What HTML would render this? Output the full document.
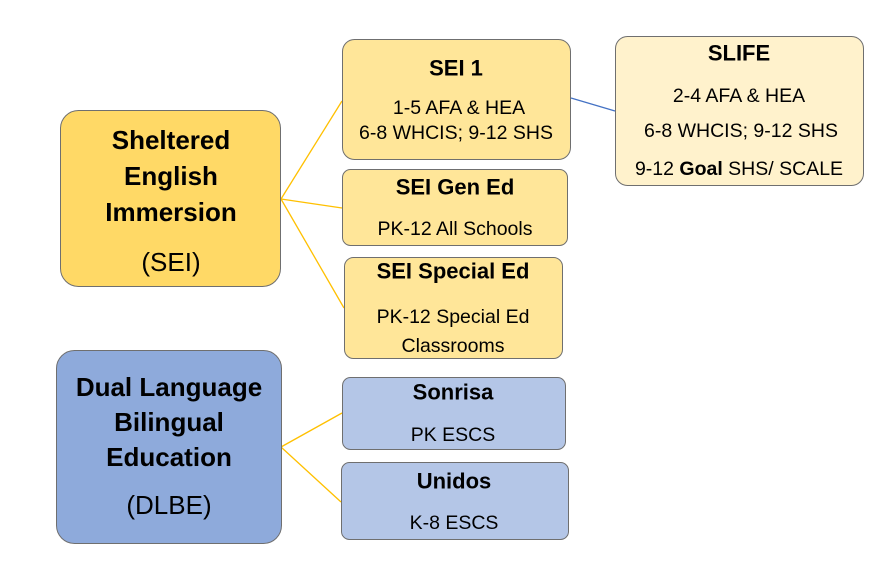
<!DOCTYPE html>
<html><head><meta charset="utf-8"><style>
html,body{margin:0;padding:0;background:#fff;}
svg{display:block;font-family:"Liberation Sans",sans-serif;}
text{text-anchor:middle;dominant-baseline:central;fill:#000;}
.b{font-weight:bold;}
</style></head><body>
<svg width="883" height="563" viewBox="0 0 883 563" xmlns="http://www.w3.org/2000/svg">
<g stroke="#ffc000" stroke-width="1.3" fill="none">
<line x1="281" y1="199" x2="342" y2="101"/>
<line x1="281" y1="199" x2="342" y2="208"/>
<line x1="281" y1="199" x2="344" y2="308"/>
<line x1="281" y1="447" x2="342" y2="413"/>
<line x1="281" y1="447" x2="341" y2="502"/>
</g>
<line x1="571" y1="98" x2="615" y2="111" stroke="#4472c4" stroke-width="1.3"/>
<g stroke="#6f6f6f" stroke-width="1">
<rect x="60.5" y="110.5" width="220" height="176" rx="18" fill="#ffd966"/>
<rect x="342.5" y="39.5" width="228" height="120" rx="12" fill="#ffe699"/>
<rect x="342.5" y="169.5" width="225" height="76" rx="8" fill="#ffe699"/>
<rect x="344.5" y="257.5" width="218" height="101" rx="9" fill="#ffe699"/>
<rect x="615.5" y="36.5" width="248" height="149" rx="12" fill="#fff2cc"/>
<rect x="56.5" y="350.5" width="225" height="193" rx="18" fill="#8eaadb"/>
<rect x="342.5" y="377.5" width="223" height="72" rx="8" fill="#b4c6e7"/>
<rect x="341.5" y="462.5" width="227" height="77" rx="8" fill="#b4c6e7"/>
</g>
<g class="b" font-size="26">
<text x="171" y="140">Sheltered</text>
<text x="171" y="176">English</text>
<text x="171" y="212">Immersion</text>
<text x="169" y="387">Dual Language</text>
<text x="169" y="422">Bilingual</text>
<text x="169" y="457">Education</text>
</g>
<text x="171" y="262" font-size="26">(SEI)</text>
<text x="169" y="505" font-size="26">(DLBE)</text>
<g class="b" font-size="22">
<text x="456" y="68">SEI 1</text>
<text x="455" y="187">SEI Gen Ed</text>
<text x="453" y="271">SEI Special Ed</text>
<text x="739" y="53">SLIFE</text>
<text x="453" y="392">Sonrisa</text>
<text x="454" y="481">Unidos</text>
</g>
<g font-size="19.5">
<text x="459" y="108">1-5 AFA &amp; HEA</text>
<text x="456" y="133">6-8 WHCIS; 9-12 SHS</text>
<text x="455" y="229">PK-12 All Schools</text>
<text x="453" y="317">PK-12 Special Ed</text>
<text x="453" y="346">Classrooms</text>
<text x="739" y="96">2-4 AFA &amp; HEA</text>
<text x="741" y="131">6-8 WHCIS; 9-12 SHS</text>
<text x="739" y="169">9-12 <tspan font-weight="bold">Goal</tspan> SHS/ SCALE</text>
<text x="453" y="435">PK ESCS</text>
<text x="454" y="523">K-8 ESCS</text>
</g>
</svg>
</body></html>
